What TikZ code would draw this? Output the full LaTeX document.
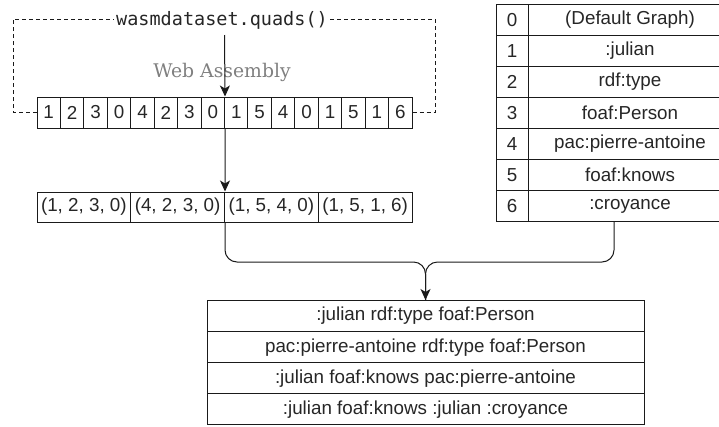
\documentclass[tikz,border=0pt]{standalone}
\usepackage{fontspec}
\setmainfont{Liberation Sans}
\newfontfamily\wamono{DejaVu Sans Mono}
\newfontfamily\waserif{DejaVu Serif}
\usetikzlibrary{arrows.meta,calc}
\definecolor{waGray}{HTML}{808080}
\definecolor{waLine}{HTML}{1A1A1A}
\begin{document}
\begin{tikzpicture}[x=1pt,y=-1pt,line width=1pt,
  every node/.style={text=black!85},
  boxbase/.style={draw=waLine,inner sep=0pt,anchor=center,font=\fontsize{18.8}{22}\selectfont},
  cell/.style={boxbase,minimum width=23.44pt,minimum height=31pt},
  tuple/.style={boxbase,minimum width=93.75pt,minimum height=30pt},
  keycell/.style={boxbase,minimum width=32pt,minimum height=31.1pt},
  valcell/.style={boxbase,minimum width=204pt,minimum height=31.1pt},
  rowcell/.style={boxbase,minimum width=437pt,minimum height=31.1pt},
  conn/.style={draw=waLine,line width=1pt},
  arr/.style={conn,-{Stealth[length=11pt,width=10pt,inset=3pt]}},
  frame/.style={draw=waLine,line width=0.9pt,dash pattern=on 4pt off 3pt}]
\useasboundingbox (0,0) rectangle (719,426);

% integer array
\foreach \v [count=\i] in {1,2,3,0,4,2,3,0,1,5,4,0,1,5,1,6}
  \node[cell] (c\i) at ({37+23.44*(\i-0.5)},112.5) {\v};

% tuples
\foreach \v [count=\i] in {{(1, 2, 3, 0)},{(4, 2, 3, 0)},{(1, 5, 4, 0)},{(1, 5, 1, 6)}}
  \node[tuple] (t\i) at ({37+93.75*(\i-0.5)},207) {\v};

% dictionary table
\foreach \k/\v [count=\i] in {0/(Default Graph),1/:julian,2/rdf:type,3/foaf:Person,4/pac:pierre-antoine,5/foaf:knows,6/:croyance}{
  \node[keycell] (k\k) at (512,{4+31.1*(\i-0.5)}) {\k};
  \node[valcell] (v\k) at (630,{4+31.1*(\i-0.5)}) {\v};
}

% result table
\foreach \v [count=\i] in {:julian rdf:type foaf:Person,pac:pierre-antoine rdf:type foaf:Person,:julian foaf:knows pac:pierre-antoine,:julian foaf:knows :julian :croyance}
  \node[rowcell] (r\i) at (425.5,{300.5+31.1*(\i-0.5)}) {\v};

% dashed frame with label
\node[inner sep=2pt,font=\wamono\fontsize{18.5}{20}\selectfont] (lbl) at (222,20) {wasmdataset.quads()};
\coordinate (fTL) at (13,19);
\coordinate (fTR) at (435,19);
\draw[frame] (c1.west) -| (fTL) -- (lbl.west |- fTL);
\draw[frame] (c16.east) -| (fTR) -- (lbl.east |- fTR);

% Web Assembly label
\node[anchor=base,inner sep=0pt,text=waGray,font=\waserif\fontsize{18.8}{22}\selectfont] (wa) at (222,77) {Web Assembly};

% arrows
\coordinate (a1s) at (224.5,35);
\draw[arr] (a1s) -- (c8.north east);
\draw[arr] (c8.south east) -- (t2.north east);

% merging connector
\coordinate (jn) at (425.5,262);
\draw[conn,rounded corners=12pt] (t2.south east) |- (jn) -- (r1.north);
\draw[conn,rounded corners=12pt] ($(k6.south west)!0.5!(v6.south east)$) |- (jn) -- (r1.north);
\draw[arr] ($(r1.north)+(0,-20)$) -- (r1.north);
\end{tikzpicture}
\end{document}
